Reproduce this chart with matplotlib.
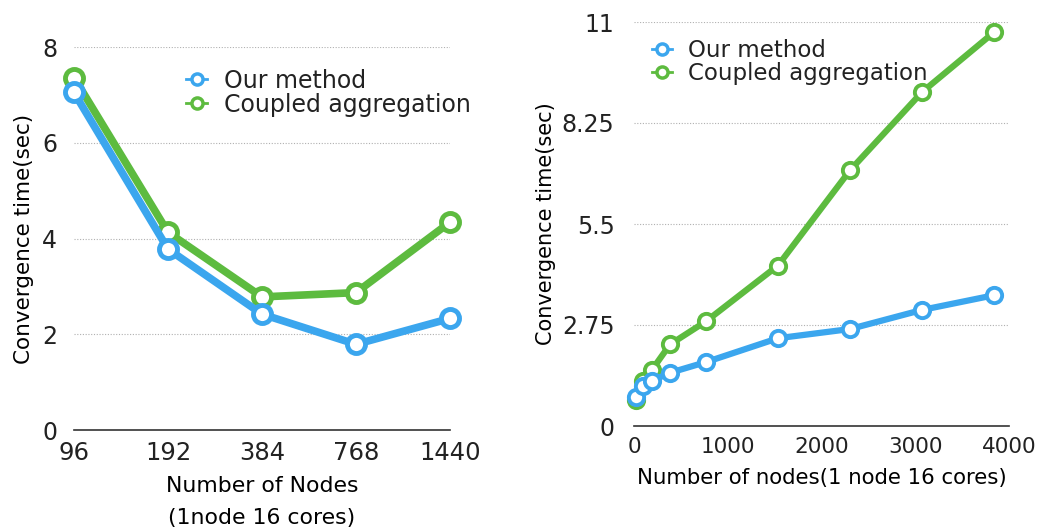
import matplotlib.pyplot as plt
from matplotlib.lines import Line2D

# left chart: convergence time by number of nodes (categorical axis)
left_nodes = ["96", "192", "384", "768", "1440"]
left_ours = [7.05, 3.78, 2.42, 1.79, 2.33]
left_coupled = [7.36, 4.13, 2.78, 2.87, 4.34]

# right chart: convergence time vs number of nodes (linear axis)
right_nodes = [16, 96, 192, 384, 768, 1536, 2304, 3072, 3840]
right_ours = [0.79, 1.08, 1.23, 1.45, 1.74, 2.39, 2.64, 3.16, 3.56]
right_coupled = [0.70, 1.22, 1.53, 2.22, 2.85, 4.37, 6.96, 9.09, 10.72]

BLUE = "#3ba6ee"
GREEN = "#5dbb3f"
TEXT = "#222222"

plt.rcParams["font.family"] = ["DejaVu Sans"]
plt.rcParams["text.color"] = TEXT

fig = plt.figure(figsize=(10.41, 5.28), dpi=100)
W, H = 1041, 528


def style(ax, yticks, ylabels, size, pad):
    for s in ["top", "right", "left"]:
        ax.spines[s].set_visible(False)
    ax.spines["bottom"].set_color("#333333")
    ax.spines["bottom"].set_linewidth(1.2)
    ax.set_yticks(yticks)
    ax.set_yticklabels(ylabels)
    ax.tick_params(length=0, colors=TEXT)
    ax.tick_params(axis="y", pad=pad, labelsize=size)
    for y in yticks[1:]:
        ax.axhline(y, color="#b0b0b0", lw=0.8, ls=(0, (1, 1.5)), zorder=0)


def legend_handles(ms, mew):
    return [Line2D([], [], color=c, lw=2, marker="o", ms=ms, mew=mew, mfc="white", mec=c)
            for c in (BLUE, GREEN)]


labels = ["Our method", "Coupled aggregation"]

# ---- left
ax1 = fig.add_axes([74 / W, (H - 430) / H, 376 / W, 383 / H])
xs = list(range(len(left_nodes)))
ax1.plot(xs, left_ours, color=BLUE, lw=5.5, marker="o", ms=13, mew=3.5,
         mfc="white", mec=BLUE, clip_on=False, zorder=3)
ax1.plot(xs, left_coupled, color=GREEN, lw=5.5, marker="o", ms=13, mew=3.5,
         mfc="white", mec=GREEN, clip_on=False, zorder=2)
ax1.set_xlim(0, 4)
ax1.set_ylim(0, 8)
ax1.set_xticks(xs)
ax1.set_xticklabels(left_nodes)
style(ax1, [0, 2, 4, 6, 8], ["0", "2", "4", "6", "8"], 17, 12)
ax1.tick_params(axis="x", labelsize=17.5, pad=8)
ax1.set_ylabel("Convergence time(sec)", fontsize=15.5, labelpad=6)
ax1.set_xlabel("Number of Nodes\n(1node 16 cores)", fontsize=15.8, labelpad=8, linespacing=1.75)
ax1.legend(legend_handles(8, 2.5), labels, loc="upper left", bbox_to_anchor=(0.273, 0.968),
           frameon=False, fontsize=17, handlelength=0.9, handletextpad=0.7,
           labelspacing=0.0, borderaxespad=0)

# ---- right
ax2 = fig.add_axes([634 / W, (H - 426) / H, 375 / W, 404 / H])
ax2.plot(right_nodes, right_ours, color=BLUE, lw=4.5, marker="o", ms=11, mew=2.8,
         mfc="white", mec=BLUE, clip_on=False, zorder=3)
ax2.plot(right_nodes, right_coupled, color=GREEN, lw=4.5, marker="o", ms=11, mew=2.8,
         mfc="white", mec=GREEN, clip_on=False, zorder=2)
ax2.set_xlim(0, 4000)
ax2.set_ylim(0, 11)
ax2.set_xticks([0, 1000, 2000, 3000, 4000])
style(ax2, [0, 2.75, 5.5, 8.25, 11], ["0", "2.75", "5.5", "8.25", "11"], 17, 14)
ax2.tick_params(axis="x", labelsize=15.5, pad=8)
ax2.set_ylabel("Convergence time(sec)", fontsize=15, labelpad=4)
ax2.set_xlabel("Number of nodes(1 node 16 cores)", fontsize=15.3, labelpad=8)
ax2.legend(legend_handles(8, 2.5), labels, loc="upper left", bbox_to_anchor=(0.023, 0.98),
           frameon=False, fontsize=16.5, handlelength=0.9, handletextpad=0.7,
           labelspacing=0.0, borderaxespad=0)

fig.savefig("out.png", dpi=100)
